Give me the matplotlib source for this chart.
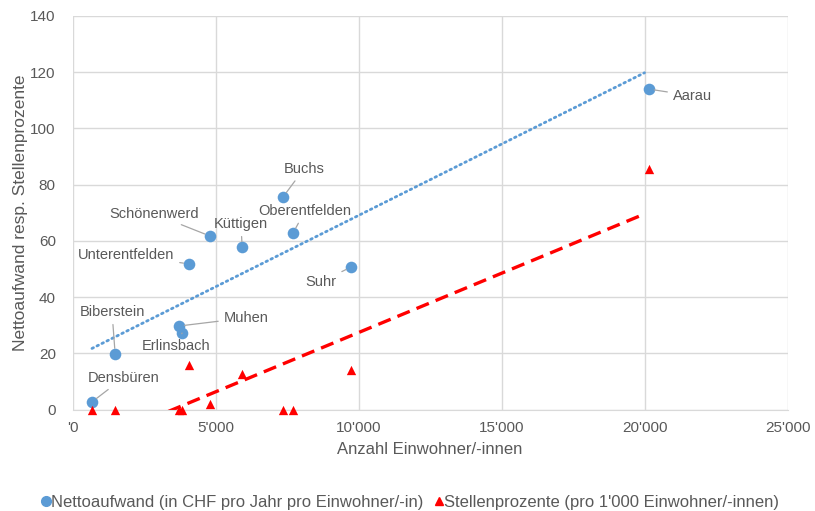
import numpy as np
import matplotlib.pyplot as plt
from matplotlib.ticker import FuncFormatter
from matplotlib.lines import Line2D

plt.rcParams['font.family'] = ['Liberation Sans', 'DejaVu Sans']

# Gemeinden, Einwohner, Nettoaufwand und Stellenprozente
gemeinden = ['Aarau', 'Buchs', 'Oberentfelden', 'Schönenwerd', 'Küttigen',
             'Unterentfelden', 'Suhr', 'Muhen', 'Erlinsbach', 'Biberstein', 'Densbüren']
einwohner = [20150, 7360, 7710, 4810, 5930, 4070, 9740, 3720, 3830, 1490, 680]
nettoaufwand = [114, 75.6, 62.8, 61.7, 57.8, 51.8, 50.7, 29.7, 27.2, 19.8, 2.7]
stellenprozente = [85.6, 0, 0, 2, 12.6, 16, 14, 0, 0, 0, 0]

# Position der Beschriftungen (Datenkoordinaten)
label_x = [20990, 8090, 8130, 2850, 5890, 1870, 8690, 6070, 3620, 1380, 1770]
label_y = [111.6, 85.6, 70.6, 69.6, 66.0, 55.0, 45.4, 32.6, 22.6, 34.7, 11.2]
label_ha = ['left', 'center', 'center', 'center', 'center', 'center', 'center',
            'center', 'center', 'center', 'center']

blau = '#5B9BD5'
rot = '#FF0000'
grau = '#595959'

fig = plt.figure(figsize=(8.15, 5.11), dpi=100)
ax = fig.add_axes([0.0890, 0.1986, 0.8773, 0.7701])

x = np.array(einwohner, dtype=float)
y1 = np.array(nettoaufwand)
y2 = np.array(stellenprozente)

# lineare Trendlinien
xs = np.array([x.min(), x.max() - 150])
k1, d1 = np.polyfit(x, y1, 1)
k2, d2 = np.polyfit(x, y2, 1)
ax.plot(xs, k1 * xs + d1, color=blau, lw=2, linestyle=(0, (0.6, 1.4)),
        dash_capstyle='round', zorder=2)
ax.plot(xs, k2 * xs + d2, color=rot, lw=2.4, linestyle=(0, (4, 2.2)), zorder=2)

ax.scatter(x, y1, s=70, color=blau, zorder=3, linewidths=0)
ax.scatter(x, y2, s=45, color=rot, marker='^', zorder=3, linewidths=0,
           clip_on=False)

for name, xi, yi, tx, ty, ha in zip(gemeinden, x, y1, label_x, label_y, label_ha):
    ax.annotate(name, xy=(xi, yi), xytext=(tx, ty), ha=ha, va='center',
                fontsize=10.5, color=grau,
                arrowprops=dict(arrowstyle='-', color='#A6A6A6', lw=0.9,
                                shrinkA=2, shrinkB=4))

ax.set_xlim(0, 25000)
ax.set_ylim(0, 140)
ax.set_xticks(np.arange(0, 25001, 5000))
ax.set_yticks(np.arange(0, 141, 20))


def tausender(v, pos):
    if v == 0:
        return "'0"
    return f"{int(v):,}".replace(',', "'")


ax.xaxis.set_major_formatter(FuncFormatter(tausender))
ax.grid(True, color='#D9D9D9', lw=1)
ax.set_axisbelow(True)
for s in ['top', 'right', 'left']:
    ax.spines[s].set_visible(False)
ax.spines['bottom'].set_color('#D9D9D9')
ax.tick_params(length=0, labelsize=11, labelcolor=grau, pad=8)
ax.tick_params(axis='y', pad=12)

ax.set_xlabel('Anzahl Einwohner/-innen', fontsize=12, color=grau, labelpad=5)
ax.set_ylabel('Nettoaufwand resp. Stellenprozente', fontsize=12.5, color=grau,
              labelpad=2)

handles = [
    Line2D([], [], marker='o', color=blau, linestyle='none', markersize=7),
    Line2D([], [], marker='^', color=rot, linestyle='none', markersize=6),
]
labels = ['Nettoaufwand (in CHF pro Jahr pro Einwohner/-in)',
          "Stellenprozente (pro 1'000 Einwohner/-innen)"]
fig.legend(handles, labels, loc='center', bbox_to_anchor=(0.5, 0.0176), ncol=2,
           frameon=False, fontsize=12, handletextpad=-0.3, columnspacing=0.3,
           handlelength=1.2, labelcolor=grau)

fig.savefig('out.png', dpi=100)
